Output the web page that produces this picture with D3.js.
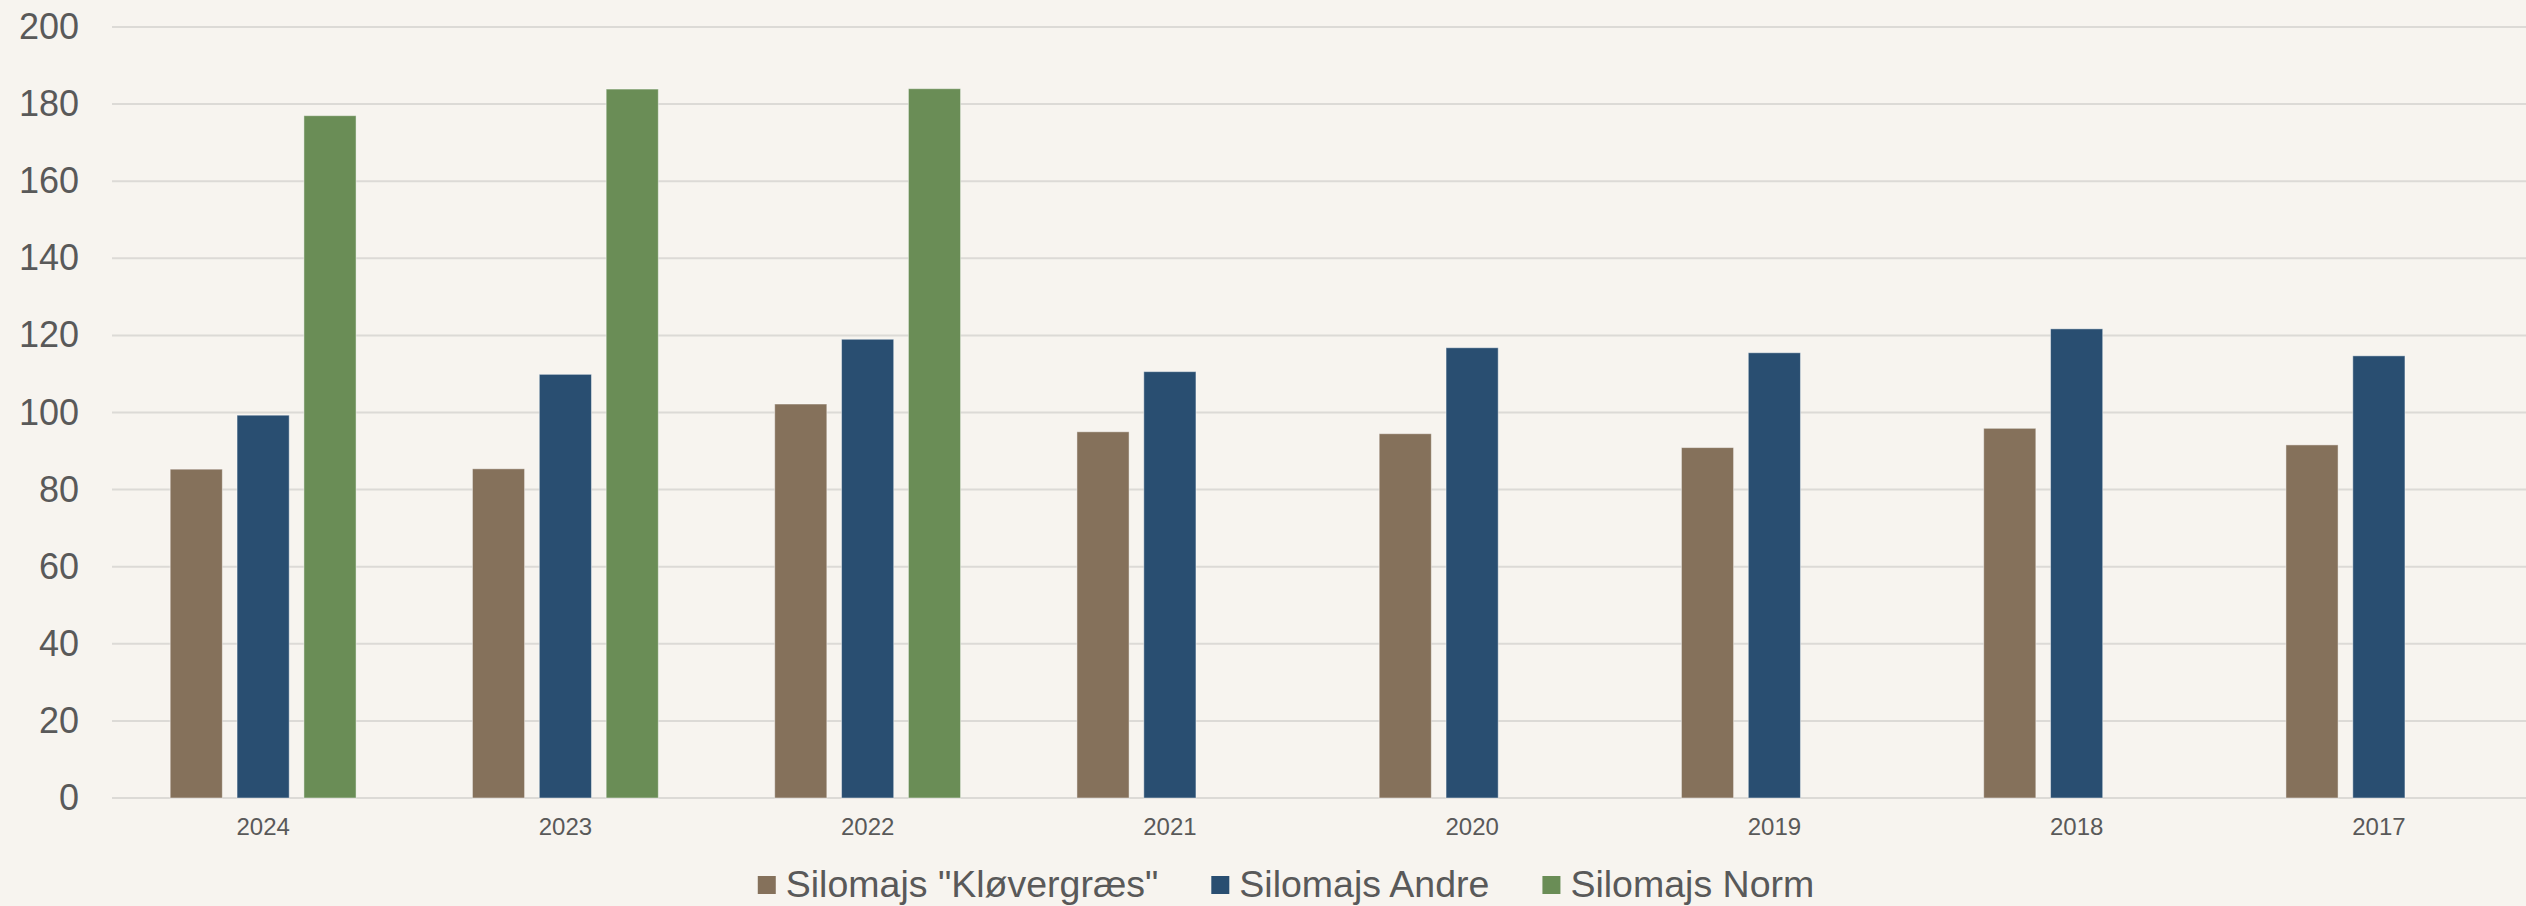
<!DOCTYPE html>
<html>
<head>
<meta charset="utf-8">
<script src="https://cdn.jsdelivr.net/npm/d3@7"></script>
<style>
  html, body { margin: 0; padding: 0; background: #f7f4ef; overflow: hidden; }
  svg { display: block; font-family: "Liberation Sans", Arial, sans-serif; }
</style>
</head>
<body>
<svg id="chart" width="2526" height="906"></svg>
<script>
// données
const years = ["2024", "2023", "2022", "2021", "2020", "2019", "2018", "2017"];
const seriesNames = ['Silomajs "Kløvergræs"', "Silomajs Andre", "Silomajs Norm"];
const kloevergraes = [85.3, 85.4, 102.2, 95.0, 94.5, 90.9, 95.9, 91.6];
const andre = [99.3, 109.9, 119.0, 110.6, 116.8, 115.5, 121.7, 114.7];
const norm = [177.0, 183.9, 184.0, null, null, null, null, null];
const yTicks = [0, 20, 40, 60, 80, 100, 120, 140, 160, 180, 200];
const colors = ["#85715b", "#294e71", "#6a8d56"];

const svg = d3.select("#chart");
const width = +svg.attr("width");
const height = +svg.attr("height");
const margin = { top: 27, right: -4, bottom: 108, left: 112 };
const innerW = width - margin.left - margin.right;
const innerH = height - margin.top - margin.bottom;

const allSeries = [kloevergraes, andre, norm];

const x0 = d3.scaleBand().domain(years).range([0, innerW]).padding(0);
const groupW = x0.bandwidth() * 0.615;
const x1 = d3.scaleBand()
  .domain(seriesNames)
  .range([(x0.bandwidth() - groupW) / 2, (x0.bandwidth() + groupW) / 2])
  .paddingInner(0.22);
const y = d3.scaleLinear().domain([0, 200]).range([innerH, 0]);

const g = svg.append("g").attr("transform", `translate(${margin.left},${margin.top})`);

// grille
g.selectAll(".grid")
  .data(yTicks)
  .enter().append("line")
  .attr("x1", 0).attr("x2", innerW)
  .attr("y1", d => y(d)).attr("y2", d => y(d))
  .attr("stroke", "#dcdad6")
  .attr("stroke-width", 2);

// axe Y
const yAxis = g.append("g")
  .call(d3.axisLeft(y).tickValues(yTicks).tickSize(0).tickPadding(33));
yAxis.select(".domain").remove();
yAxis.selectAll("text")
  .attr("font-size", 36)
  .attr("fill", "#595959")
  .attr("font-family", "Liberation Sans, Arial, sans-serif");

// axe X
const xAxis = g.append("g")
  .attr("transform", `translate(0,${innerH})`)
  .call(d3.axisBottom(x0).tickSize(0).tickPadding(20));
xAxis.select(".domain").remove();
xAxis.selectAll("text")
  .attr("font-size", 24)
  .attr("fill", "#595959")
  .attr("font-family", "Liberation Sans, Arial, sans-serif");

// barres
const groups = g.selectAll(".year")
  .data(years)
  .enter().append("g")
  .attr("transform", d => `translate(${x0(d)},0)`);

groups.selectAll("rect")
  .data((d, i) => seriesNames.map((s, k) => ({ s: s, k: k, v: allSeries[k][i] })).filter(e => e.v != null))
  .enter().append("rect")
  .attr("x", d => x1(d.s))
  .attr("width", x1.bandwidth())
  .attr("y", d => y(d.v))
  .attr("height", d => innerH - y(d.v))
  .attr("fill", d => colors[d.k])
  .attr("stroke", "rgba(255,255,255,0.45)")
  .attr("stroke-width", 1);

// légende
const legend = svg.append("g").attr("transform", "translate(0,897)");
const items = legend.selectAll(".item")
  .data(seriesNames)
  .enter().append("g");
items.append("rect")
  .attr("y", -21).attr("width", 18).attr("height", 18)
  .attr("fill", (d, i) => colors[i]);
items.append("text")
  .attr("x", 28)
  .attr("font-size", 37.5)
  .attr("fill", "#595959")
  .text(d => d);

const widths = [];
items.each(function () {
  widths.push(28 + d3.select(this).select("text").node().getComputedTextLength());
});
const gap = 53;
const totalW = d3.sum(widths) + gap * (widths.length - 1);
let pos = 1286 - totalW / 2;
items.attr("transform", (d, i) => {
  const t = `translate(${pos},0)`;
  pos += widths[i] + gap;
  return t;
});
</script>
</body>
</html>
